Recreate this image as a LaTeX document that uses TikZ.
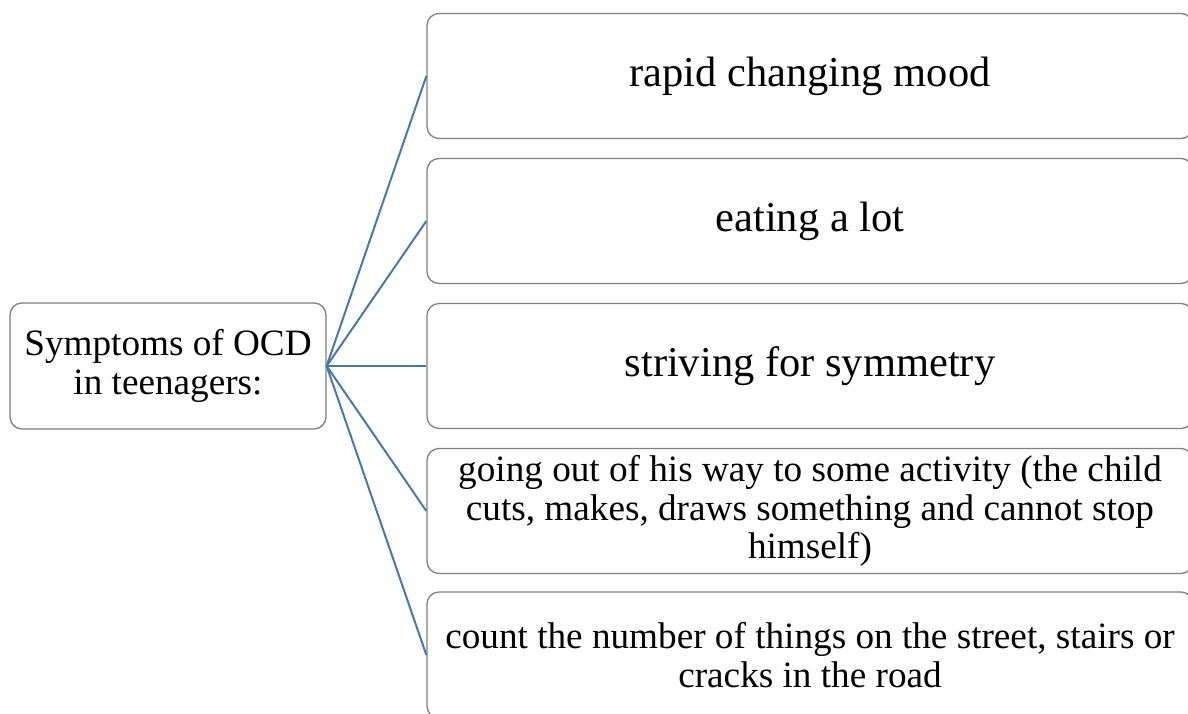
\documentclass[tikz,border=0pt]{standalone}
\usepackage{fontspec}
\setmainfont{Liberation Serif}
\definecolor{linkblue}{RGB}{70,120,170}
\definecolor{boxgray}{RGB}{128,128,128}
\tikzset{
  sbox/.style={draw=boxgray, line width=1.3pt, rounded corners=12pt, fill=white, align=center, inner sep=0pt},
  bigtext/.style={font=\fontsize{42.5}{48}\selectfont},
  smalltext/.style={font=\fontsize{37.2}{38.5}\selectfont},
  link/.style={draw=linkblue, line width=2pt}
}
\begin{document}
\begin{tikzpicture}[x=1pt,y=-1pt]
\useasboundingbox (0,0) rectangle (1188,713);
\clip (0,0) rectangle (1188,713);
\node[sbox, smalltext, minimum width=316pt, minimum height=126pt] (root) at (168,366) {Symptoms of OCD\\in teenagers:};
\node[sbox, bigtext, minimum width=766pt, minimum height=125pt] (b1) at (810,76) {rapid changing mood};
\node[sbox, bigtext, minimum width=766pt, minimum height=125pt] (b2) at (810,221) {eating a lot};
\node[sbox, bigtext, minimum width=766pt, minimum height=125pt] (b3) at (810,366) {striving for symmetry};
\node[sbox, smalltext, minimum width=766pt, minimum height=125pt] (b4) at (810,511) {going out of his way to some activity (the child\\cuts, makes, draws something and cannot stop\\himself)};
\node[sbox, smalltext, minimum width=766pt, minimum height=126pt] (b5) at (810,655) {count the number of things on the street, stairs or\\cracks in the road};
\foreach \b in {b1,b2,b3,b4,b5}{
  \draw[link] (root.east) -- (\b.west);
}
\end{tikzpicture}
\end{document}
